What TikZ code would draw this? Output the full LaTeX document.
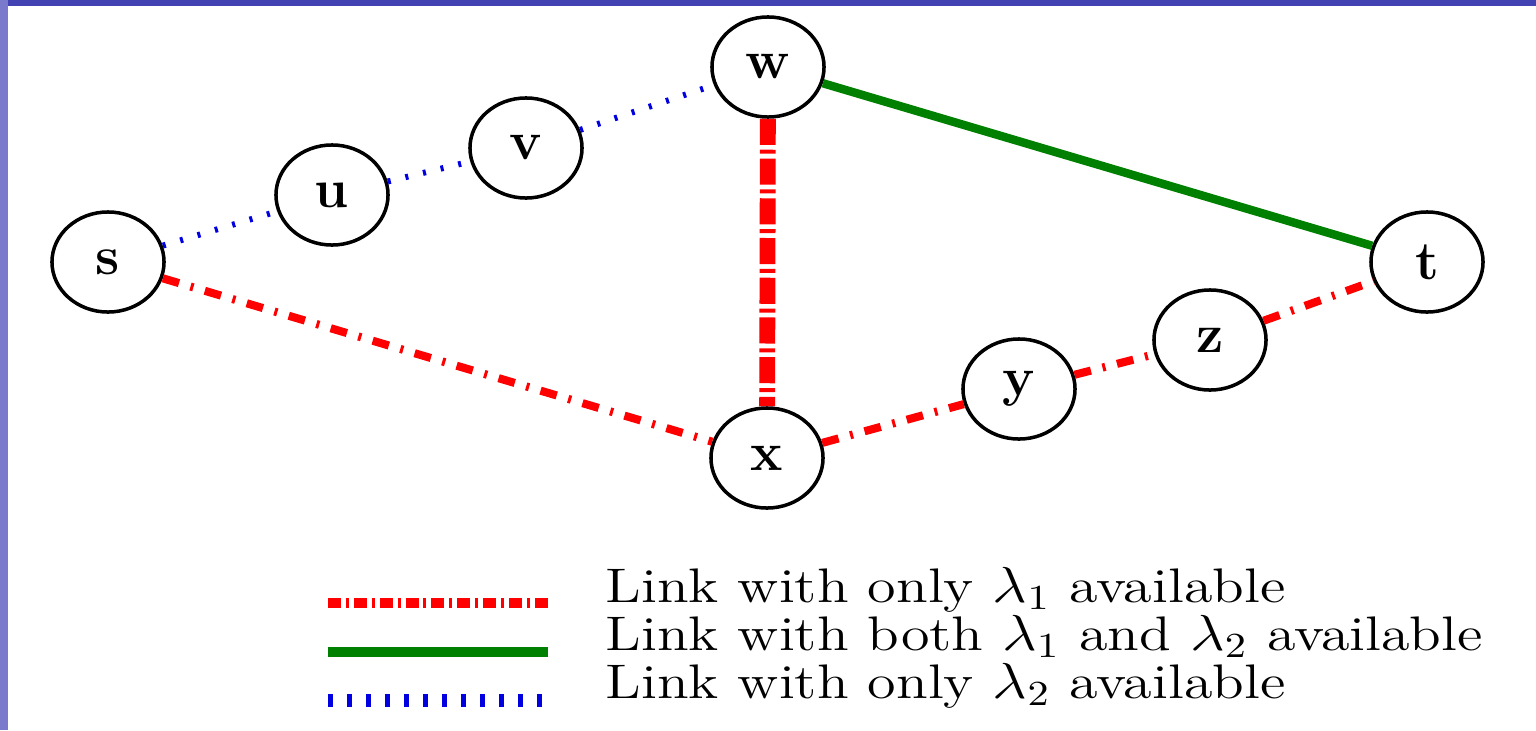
\documentclass[tikz,border=0pt]{standalone}
\usepackage{graphicx}
\usetikzlibrary{shapes.geometric}
\definecolor{linkred}{RGB}{255,0,0}
\definecolor{linkgreen}{RGB}{0,128,0}
\definecolor{linkblue}{RGB}{0,0,225}
\definecolor{slideband}{RGB}{66,66,178}
\definecolor{slideside}{RGB}{122,122,204}
\newcommand\legtext[1]{\scalebox{1.2}[1]{#1}}

\begin{document}
\begin{tikzpicture}[x=0.01cm, y=-0.01cm,
  every node/.style={font=\fontsize{15.5}{15.5}\selectfont\bfseries},
  vertex/.style={draw, ellipse, line width=1pt, minimum width=1.12cm, minimum height=1cm, inner sep=0pt},
  onlyone/.style={linkred, line width=2.3pt, dash pattern=on 4.8pt off 3.4pt on 0.85pt off 3.4pt},
  bothwl/.style={linkgreen, line width=2.4pt},
  onlytwo/.style={linkblue, line width=1.7pt, dash pattern=on 0.85pt off 4.3pt},
  legend/.style={anchor=base west, inner sep=0pt, font=\fontsize{13.8}{14}\selectfont}]
  \fill[slideband] (0,0) rectangle (1536,6);
  \fill[slideside] (0,0) rectangle (8,730);
  \useasboundingbox (0,0) rectangle (1536,730);
  \node[vertex] (s) at (108,262) {s};
  \node[vertex] (u) at (332,195) {u};
  \node[vertex] (v) at (526,148) {v};
  \node[vertex] (w) at (768,67) {w};
  \node[vertex] (x) at (767,458) {x};
  \node[vertex] (y) at (1019,389) {y};
  \node[vertex] (z) at (1210,340) {z};
  \node[vertex] (t) at (1427,262) {t};
  \draw[onlytwo] (s) -- (u);
  \draw[onlytwo] (u) -- (v);
  \draw[onlytwo] (v) -- (w);
  \draw[bothwl] (w) -- (t);
  \draw[onlyone, line width=4.5pt, dash pattern=on 7.4pt off 1.4pt on 1.1pt off 1.4pt] (w) -- (x);
  \draw[onlyone] (s) -- (x);
  \draw[onlyone] (x) -- (y);
  \draw[onlyone] (y) -- (z);
  \draw[onlyone] (z) -- (t);
  \node[legend] (leg1) at (605,602) {\legtext{Link with only $\lambda_1$ available}};
  \node[legend] (leg2) at (605,650) {\legtext{Link with both $\lambda_1$ and $\lambda_2$ available}};
  \node[legend] (leg3) at (605,698) {\legtext{Link with only $\lambda_2$ available}};
  \coordinate (r1) at (328,603);
  \coordinate (r2) at (548,603);
  \coordinate (g1) at (328,652);
  \coordinate (g2) at (548,652);
  \coordinate (b1) at (328,700);
  \coordinate (b2) at (548,700);
  \draw[onlyone, line width=2.85pt, dash pattern=on 3.7pt off 1.4pt on 0.85pt off 1.4pt] (r1) -- (r2);
  \draw[bothwl, line width=2.85pt] (g1) -- (g2);
  \draw[onlytwo, line width=3.7pt, dash pattern=on 1.4pt off 4pt] (b1) -- (b2);
\end{tikzpicture}
\end{document}
